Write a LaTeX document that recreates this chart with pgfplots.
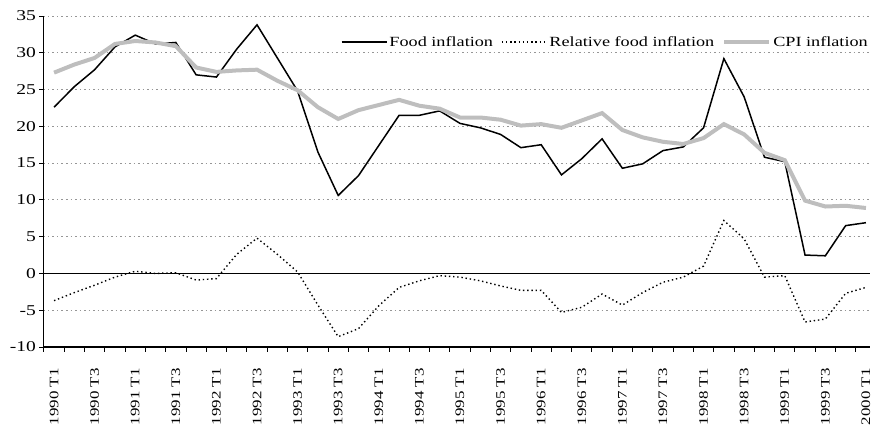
\documentclass[border=0pt]{standalone}
\usepackage{pgfplots}
\pgfplotsset{compat=1.18}
\usepackage{fontspec}
\setmainfont[FakeStretch=1.3]{Liberation Serif}
\definecolor{cpigray}{RGB}{190,190,190}
\definecolor{gridgray}{RGB}{150,150,150}
\pgfplotstableread{
i food rel cpi
0 22.6 -3.7 27.3
1 25.4 -2.6 28.4
2 27.7 -1.6 29.3
3 30.8 -0.5 31.2
4 32.4 0.3 31.6
5 31.2 0.0 31.4
6 31.4 0.1 30.9
7 27.0 -0.9 28.0
8 26.7 -0.7 27.4
9 30.5 2.6 27.6
10 33.8 4.8 27.7
11 29.3 2.6 26.2
12 24.8 0.2 24.9
13 16.5 -4.3 22.6
14 10.6 -8.6 21.0
15 13.3 -7.5 22.2
16 17.4 -4.4 22.9
17 21.5 -1.9 23.6
18 21.5 -1.0 22.8
19 22.1 -0.3 22.4
20 20.4 -0.5 21.2
21 19.8 -1.0 21.2
22 18.9 -1.7 20.9
23 17.1 -2.3 20.1
24 17.5 -2.3 20.3
25 13.4 -5.3 19.8
26 15.6 -4.6 20.8
27 18.3 -2.8 21.8
28 14.3 -4.3 19.5
29 14.9 -2.6 18.5
30 16.7 -1.2 17.9
31 17.2 -0.5 17.6
32 19.8 1.0 18.4
33 29.2 7.2 20.3
34 24.0 4.7 18.9
35 15.8 -0.5 16.4
36 15.2 -0.3 15.4
37 2.5 -6.6 9.9
38 2.4 -6.2 9.1
39 6.5 -2.7 9.2
40 6.9 -1.9 8.9
}\datatable
\begin{document}
\begin{tikzpicture}
\useasboundingbox (-43.5pt,-78pt) rectangle (828.5pt,347pt);
\begin{axis}[
  at={(0pt,0pt)}, anchor=south west,
  scale only axis,
  width=826.5pt, height=331pt,
  xmin=-0.52, xmax=40.2,
  ymin=-10, ymax=35,
  ytick={-10,-5,...,35},
  xtick={0,2,...,40},
  xticklabels={1990 T1,1990 T3,1991 T1,1991 T3,1992 T1,1992 T3,1993 T1,1993 T3,1994 T1,1994 T3,1995 T1,1995 T3,1996 T1,1996 T3,1997 T1,1997 T3,1998 T1,1998 T3,1999 T1,1999 T3,2000 T1},
  minor xtick={-0.5,0.5,...,39.5},
  axis x line*=bottom, axis y line*=left,
  axis line style={black, line width=1.1pt},
  tick align=outside,
  major tick length=4pt,
  minor tick length=5pt,
  major x tick style={draw=none},
  minor x tick style={black, line width=0.9pt},
  major y tick style={black, line width=0.9pt},
  ymajorgrids,
  major grid style={gridgray, dash pattern=on 1.5pt off 3pt, line width=0.8pt},
  /pgf/number format/assume math mode=true,
  yticklabel style={font=\fontsize{15}{18}\selectfont},
  xticklabel style={font=\fontsize{13}{15}\selectfont, rotate=90, anchor=east},
  xticklabel shift=14pt,
  legend columns=3,
  legend style={at={(1,0.921)}, anchor=east, draw=none, fill=none, inner sep=0pt,
    font=\fontsize{14}{16}\selectfont,
    /tikz/every even column/.append style={column sep=6pt}},
  legend image code/.code={\draw[#1] (0pt,0pt) -- (45pt,0pt);},
]
\addplot[black, line width=1pt, forget plot] coordinates {(-0.52,0) (40.2,0)};
\addplot[black, line width=1.5pt] table[x=i, y=food] {\datatable};
\addlegendentry{Food inflation}
\addplot[black, line width=1.4pt, dash pattern=on 1.4pt off 2.8pt] table[x=i, y=rel] {\datatable};
\addlegendentry{Relative food inflation}
\addplot[cpigray, line width=4pt] table[x=i, y=cpi] {\datatable};
\addlegendentry{CPI inflation}
\end{axis}
\end{tikzpicture}
\end{document}
